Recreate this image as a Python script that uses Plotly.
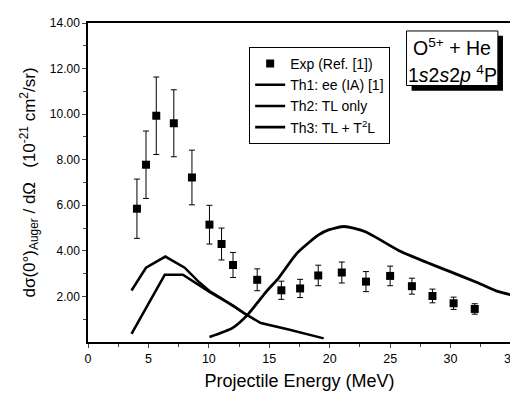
import plotly.graph_objects as go

# Experimental data
exp_energy = [4.05, 4.8, 5.65, 7.1, 8.6, 10.05, 11.05, 12.0, 14.0, 16.0, 17.55, 19.05,
              21.0, 23.0, 25.0, 26.8, 28.5, 30.25, 32.0]
exp_value = [5.85, 7.78, 9.93, 9.6, 7.22, 5.15, 4.3, 3.38, 2.73, 2.27, 2.35, 2.92,
             3.05, 2.65, 2.9, 2.45, 2.02, 1.7, 1.45]
exp_error = [1.3, 1.48, 1.7, 1.47, 1.2, 0.85, 0.7, 0.55, 0.48, 0.4, 0.4, 0.45,
             0.46, 0.44, 0.43, 0.35, 0.3, 0.27, 0.23]

# Theory curves
th1_energy = [3.6, 4.8, 6.4, 8.0, 9.2, 10.05, 11.0, 12.0, 13.1]
th1_value = [2.26, 3.26, 3.75, 3.26, 2.62, 2.24, 1.93, 1.6, 1.2]

th2_energy = [3.6, 6.35, 7.85, 9.2, 10.05, 11.0, 12.0, 13.1, 14.3, 16.6, 19.5]
th2_value = [0.36, 2.95, 2.95, 2.48, 2.2, 1.9, 1.6, 1.2, 0.83, 0.55, 0.16]

th3_energy = [10.05, 11.97, 13.2, 14.72, 15.8, 17.3, 19.05, 19.9, 21.2, 22.95,
              25.7, 28.0, 29.8, 32.3, 33.9, 35.0]
th3_value = [0.22, 0.62, 1.19, 2.19, 2.83, 3.9, 4.69, 4.92, 5.07, 4.84,
             4.02, 3.5, 3.12, 2.59, 2.22, 2.07]

y_ticks = [2, 4, 6, 8, 10, 12, 14]
y_ticklabels = ["2.00", "4.00", "6.00", "8.00", "10.00", "12.00", "14.00"]
y_minor = [1, 3, 5, 7, 9, 11, 13]

FONT = "Arial, Liberation Sans, sans-serif"

fig = go.Figure()
fig.add_trace(go.Scatter(
    x=exp_energy, y=exp_value, mode="markers", name="Exp (Ref. [1])",
    marker=dict(symbol="square", size=8, color="black"),
    error_y=dict(type="data", array=exp_error, color="black", thickness=1, width=3),
))
fig.add_trace(go.Scatter(x=th1_energy, y=th1_value, mode="lines", name="Th1: ee (IA) [1]",
                         line=dict(color="black", width=2.5)))
fig.add_trace(go.Scatter(x=th2_energy, y=th2_value, mode="lines", name="Th2: TL only",
                         line=dict(color="black", width=2.5)))
fig.add_trace(go.Scatter(x=th3_energy, y=th3_value, mode="lines", name="Th3: TL + T<sup>2</sup>L",
                         line=dict(color="black", width=2.8, shape="spline", smoothing=0.6)))

fig.update_layout(
    width=518, height=399,
    margin=dict(l=80, r=13, t=8, b=65),
    paper_bgcolor="white", plot_bgcolor="white",
    font=dict(family=FONT, size=12, color="black"),
    showlegend=True,
    legend=dict(x=0.381, y=0.925, xanchor="left", yanchor="top",
                bordercolor="black", borderwidth=1, bgcolor="white",
                font=dict(size=14), tracegroupgap=0, itemwidth=30),
    xaxis=dict(range=[0, 35], tickvals=[0, 5, 10, 15, 20, 25, 30, 35],
               ticks="outside", ticklen=4, tickwidth=1, showline=True, linecolor="black",
               linewidth=1.5, mirror=True, showgrid=False, zeroline=False,
               minor=dict(dtick=2.5, ticks="outside", ticklen=3, tickwidth=1),
               tickfont=dict(size=12.5),
               title=dict(text="Projectile Energy (MeV)", font=dict(size=18), standoff=10)),
    yaxis=dict(range=[0, 14], tickvals=y_ticks, ticktext=y_ticklabels,
               ticks="outside", ticklen=4, tickwidth=1, showline=True, linecolor="black",
               linewidth=1.5, mirror=True, showgrid=False, zeroline=False,
               minor=dict(tickvals=y_minor, ticks="outside", ticklen=3, tickwidth=1),
               tickfont=dict(size=12),
               title=dict(text="dσ(0°)<sub>Auger</sub> / dΩ   (10<sup>-21</sup> cm<sup>2</sup>/sr)",
                          font=dict(size=17), standoff=10)),
)

# Label box with shadow
fig.add_shape(type="rect", xref="paper", yref="paper", x0=0.765, x1=0.981, y0=0.788, y1=0.960,
              fillcolor="black", line=dict(width=0), layer="above")
fig.add_shape(type="rect", xref="paper", yref="paper", x0=0.753, x1=0.969, y0=0.804, y1=0.975,
              fillcolor="white", line=dict(color="black", width=1), layer="above")
fig.add_annotation(xref="paper", yref="paper", x=0.861, y=0.925, showarrow=False,
                   text="O<sup>5+</sup> + He", font=dict(size=19.5), xanchor="center", yanchor="middle")
fig.add_annotation(xref="paper", yref="paper", x=0.861, y=0.84, showarrow=False,
                   text="1<i>s</i>2<i>s</i>2<i>p</i> <sup>4</sup>P", font=dict(size=19.5),
                   xanchor="center", yanchor="middle")

fig.write_html("out.html")
